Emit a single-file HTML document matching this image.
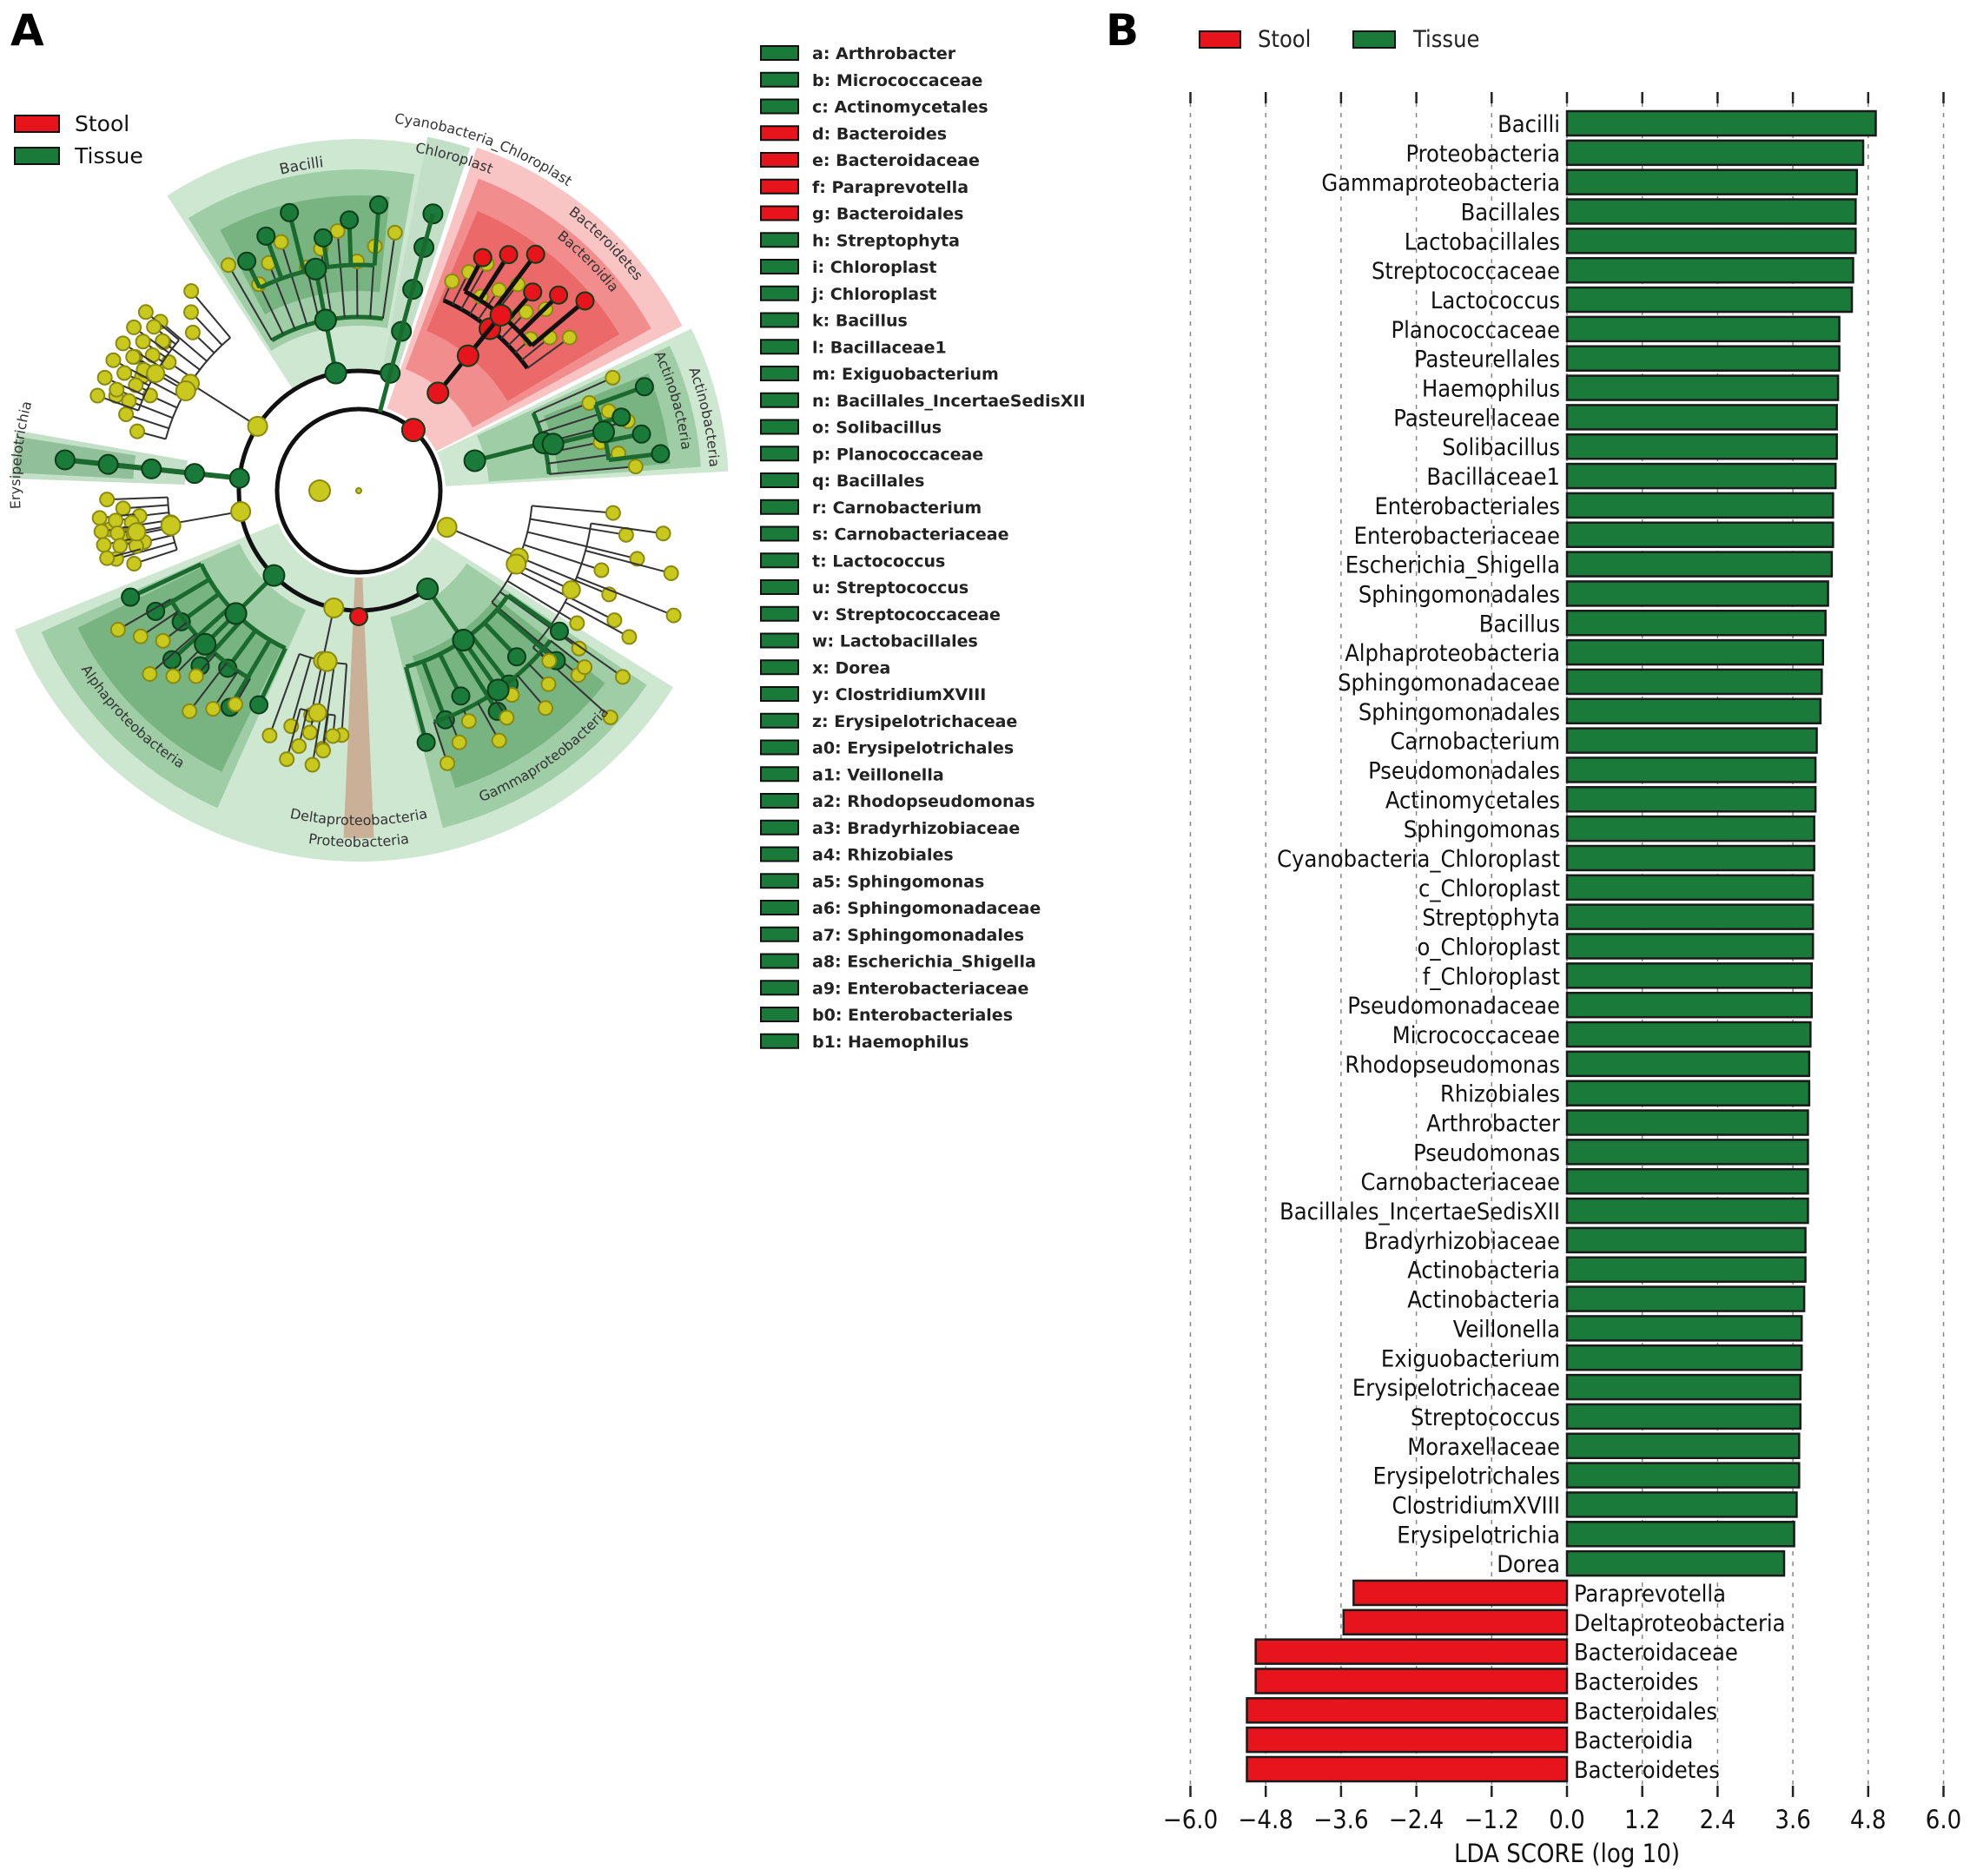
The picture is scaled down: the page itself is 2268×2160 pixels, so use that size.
<!DOCTYPE html>
<html><head><meta charset="utf-8">
<style>
html,body{margin:0;padding:0;background:#fff;}
svg{display:block;}
</style></head>
<body>
<svg id="fig" width="2268" height="2160" viewBox="0 0 2268 2160" xmlns="http://www.w3.org/2000/svg">
  <g id="panelA"></g>
  <g id="legendList"></g>
  <g id="panelB"></g>
  <text x="12" y="52" font-family="DejaVu Sans, sans-serif" font-weight="bold" font-size="50" fill="#000">A</text>
  <text x="1273" y="52" font-family="DejaVu Sans, sans-serif" font-weight="bold" font-size="50" fill="#000">B</text>
  <g>
    <rect x="17" y="133" width="51" height="19" fill="#e8141c" stroke="#111" stroke-width="2"/>
    <text x="86" y="151" font-family="DejaVu Sans, sans-serif" font-size="25" fill="#111">Stool</text>
    <rect x="17" y="170" width="51" height="19" fill="#1a7a3a" stroke="#111" stroke-width="2"/>
    <text x="86" y="188" font-family="DejaVu Sans, sans-serif" font-size="25" fill="#111">Tissue</text>
  </g>
  <g>
    <rect x="1381" y="36" width="47" height="19" fill="#e8141c" stroke="#111" stroke-width="2"/>
    <text x="1448" y="54" font-family="DejaVu Sans Condensed, DejaVu Sans, sans-serif" font-size="27" fill="#222">Stool</text>
    <rect x="1558" y="36" width="48" height="19" fill="#1a7a3a" stroke="#111" stroke-width="2"/>
    <text x="1627" y="54" font-family="DejaVu Sans Condensed, DejaVu Sans, sans-serif" font-size="27" fill="#222">Tissue</text>
  </g>
</svg>
<script>
const NS = "http://www.w3.org/2000/svg";
// ---------- Bar chart data ----------
const categories = ["Bacilli","Proteobacteria","Gammaproteobacteria","Bacillales","Lactobacillales","Streptococcaceae","Lactococcus","Planococcaceae","Pasteurellales","Haemophilus","Pasteurellaceae","Solibacillus","Bacillaceae1","Enterobacteriales","Enterobacteriaceae","Escherichia_Shigella","Sphingomonadales","Bacillus","Alphaproteobacteria","Sphingomonadaceae","Sphingomonadales","Carnobacterium","Pseudomonadales","Actinomycetales","Sphingomonas","Cyanobacteria_Chloroplast","c_Chloroplast","Streptophyta","o_Chloroplast","f_Chloroplast","Pseudomonadaceae","Micrococcaceae","Rhodopseudomonas","Rhizobiales","Arthrobacter","Pseudomonas","Carnobacteriaceae","Bacillales_IncertaeSedisXII","Bradyrhizobiaceae","Actinobacteria","Actinobacteria","Veillonella","Exiguobacterium","Erysipelotrichaceae","Streptococcus","Moraxellaceae","Erysipelotrichales","ClostridiumXVIII","Erysipelotrichia","Dorea","Paraprevotella","Deltaproteobacteria","Bacteroidaceae","Bacteroides","Bacteroidales","Bacteroidia","Bacteroidetes"];
const ldaScores = [4.92,4.72,4.62,4.6,4.6,4.56,4.54,4.34,4.34,4.32,4.3,4.3,4.28,4.24,4.24,4.22,4.16,4.12,4.08,4.06,4.04,3.98,3.96,3.96,3.94,3.94,3.92,3.92,3.92,3.9,3.9,3.88,3.86,3.86,3.84,3.84,3.84,3.84,3.8,3.8,3.78,3.74,3.74,3.72,3.72,3.7,3.7,3.66,3.62,3.46,-3.4,-3.56,-4.96,-4.96,-5.1,-5.1,-5.1];
const tickValues = [-6.0,-4.8,-3.6,-2.4,-1.2,0.0,1.2,2.4,3.6,4.8,6.0];
const tickLabels = ["\u22126.0","\u22124.8","\u22123.6","\u22122.4","\u22121.2","0.0","1.2","2.4","3.6","4.8","6.0"];

function el(tag, attrs, parent){ const e=document.createElementNS(NS,tag); for(const k in attrs) e.setAttribute(k,attrs[k]); if(parent) parent.appendChild(e); return e; }

(function(){
  const g = document.getElementById('panelB');
  const X0 = 1804, UNIT = 72.25, TOP = 106, BOT = 2069, Y0 = 142, STEP = (2037-142)/56, BH = 28;
  const xs = v => X0 + v*UNIT;
  const ys = i => Y0 + i*STEP;
  const font = "DejaVu Sans Condensed, DejaVu Sans, sans-serif";
  tickValues.forEach((t,i)=>{
    const x = xs(t);
    const gl = el('line',{x1:x,x2:x,y1:TOP,y2:BOT,stroke:'#888','stroke-width':1.5,'stroke-dasharray':'5 7'},g);
    
    
    const tt = el('line',{x1:x,x2:x,y1:TOP,y2:TOP+13,stroke:'#222','stroke-width':2.5},g);
    
    
    const tb = el('line',{x1:x,x2:x,y1:BOT-13,y2:BOT,stroke:'#222','stroke-width':2.5},g);
    
    
    const tl = el('text',{x:x,y:2105,'text-anchor':'middle','font-family':font,'font-size':29,fill:'#111'},g);
    tl.textContent = tickLabels[i];
    
    
  });
  categories.forEach((c,i)=>{
    const v = ldaScores[i], y = ys(i);
    const x1 = xs(Math.min(0,v)), x2 = xs(Math.max(0,v));
    const r = el('rect',{x:x1,y:y-BH/2,width:x2-x1,height:BH,fill:v>=0?'#1a7a3a':'#e8141c',stroke:'#1a1a1a','stroke-width':2.5},g);
    
    
    const t = el('text',{x:v>=0?X0-8:X0+8,y:y+10,'text-anchor':v>=0?'end':'start','font-family':font,'font-size':27,fill:'#111'},g);
    t.textContent = c;
    
    
  });
  const at = el('text',{x:X0,y:2144,'text-anchor':'middle','font-family':font,'font-size':29,fill:'#111'},g);
  at.textContent = 'LDA SCORE (log 10)';
  
  
})();

// ---------- Clade key legend ----------
const keyLabels = ["a: Arthrobacter","b: Micrococcaceae","c: Actinomycetales","d: Bacteroides","e: Bacteroidaceae","f: Paraprevotella","g: Bacteroidales","h: Streptophyta","i: Chloroplast","j: Chloroplast","k: Bacillus","l: Bacillaceae1","m: Exiguobacterium","n: Bacillales_IncertaeSedisXII","o: Solibacillus","p: Planococcaceae","q: Bacillales","r: Carnobacterium","s: Carnobacteriaceae","t: Lactococcus","u: Streptococcus","v: Streptococcaceae","w: Lactobacillales","x: Dorea","y: ClostridiumXVIII","z: Erysipelotrichaceae","a0: Erysipelotrichales","a1: Veillonella","a2: Rhodopseudomonas","a3: Bradyrhizobiaceae","a4: Rhizobiales","a5: Sphingomonas","a6: Sphingomonadaceae","a7: Sphingomonadales","a8: Escherichia_Shigella","a9: Enterobacteriaceae","b0: Enterobacteriales","b1: Haemophilus"];
const keyGroups = ["T","T","T","S","S","S","S","T","T","T","T","T","T","T","T","T","T","T","T","T","T","T","T","T","T","T","T","T","T","T","T","T","T","T","T","T","T","T"];
(function(){
  const g = document.getElementById('legendList');
  keyLabels.forEach((k,i)=>{
    const y = 53 + i*30.75;
    const r = el('rect',{x:876,y:y,width:43,height:16,fill:keyGroups[i]==='S'?'#e8141c':'#1a7a3a',stroke:'#111','stroke-width':2},g);
    
    
    const t = el('text',{x:935,y:y+15,'font-family':'DejaVu Sans, sans-serif','font-size':19,'font-weight':'bold',fill:'#222'},g);
    t.textContent = k;
    
    
  });
})();

// ---------- Cladogram ----------
(function(){
  const g = document.getElementById('panelA');
  const CX = 413, CY = 565;
  const P = (a,r)=>[CX + r*Math.cos(a*Math.PI/180), CY - r*Math.sin(a*Math.PI/180)];
  function sector(a0,a1,r0,r1,fill,name){
    const la = (a1-a0)>180?1:0;
    const p1=P(a0,r1),p2=P(a1,r1),p3=P(a1,r0),p4=P(a0,r0);
    const d=`M${p1} A${r1} ${r1} 0 ${la} 0 ${p2} L${p3} A${r0} ${r0} 0 ${la} 1 ${p4} Z`;
    const s=el('path',{d:d,fill:fill},g);
    
    
  }
  const G1='rgba(60,160,70,0.25)', G2='rgba(40,140,55,0.28)', G3='rgba(30,120,45,0.3)';
  const R1='rgba(235,60,60,0.3)', R2='rgba(225,40,40,0.35)';
  sector(202,328,100,427,G1,'proteobacteria-wedge');
  sector(204,246,150,400,G2,'alphaproteobacteria-wedge');
  sector(206,244,200,360,G3,'a4-wedge');
  sector(284,326,150,400,G2,'gammaproteobacteria-wedge');
  sector(288,322,200,360,G3,'gamma-order-wedge');
  sector(267.5,272.5,100,400,'rgba(200,140,110,0.6)','deltaproteobacteria-wedge');
  sector(79,123,140,405,G1,'bacilli-wedge');
  sector(80,122,190,370,G2,'bacilli-order-wedge');
  sector(84,118,230,340,G3,'bacilli-family-wedge');
  sector(72,79,140,415,G2,'chloroplast-wedge');
  sector(27,71,100,418,R1,'bacteroidetes-wedge');
  sector(29,69,150,385,R2,'bacteroidia-wedge');
  sector(31,67,200,350,R2,'bacteroidales-wedge');
  sector(3,26,100,426,G1,'actinobacteria-phylum-wedge');
  sector(4,25,150,395,G2,'actinobacteria-class-wedge');
  sector(5,22,230,360,G3,'actinomycetales-wedge');
  sector(170,178,200,400,G2,'erysipelotrichia-wedge');
  sector(171,177,260,395,G3,'erysipelotrichales-wedge');
  const c0=el('circle',{cx:CX,cy:CY,r:94,fill:'none',stroke:'#111','stroke-width':5},g);
  
  
  const a0=P(78,138), a1=P(300,138);
  const arc=el('path',{d:`M${a0} A138 138 0 1 0 ${a1}`,fill:'none',stroke:'#111','stroke-width':5},g);
  
  
  const YL='#c8c81e', GR='#1a7a3a', RD='#e8141c';
  function node(a,r,c,s){
    const p=P(a,r);
    const n=el('circle',{cx:p[0],cy:p[1],r:s,fill:c,stroke:c===YL?'#8a8a10':'#0c3c18','stroke-width':2},g);
    
    
  }
  function branch(a,r0,r1,c,w){
    const p=P(a,r0),q=P(a,r1);
    const l=el('line',{x1:p[0],y1:p[1],x2:q[0],y2:q[1],stroke:c,'stroke-width':w},g);
    
    
  }
  function subarc(aa,ab,r,c,w){
    const p=P(aa,r),q=P(ab,r);
    const l=el('path',{d:`M${p} A${r} ${r} 0 0 0 ${q}`,fill:'none',stroke:c,'stroke-width':w},g);
    
    
  }
  const clusters=[
    [82,120,10,138,200,300,GR,YL],[86,116,6,200,260,330,GR,GR],
    [36,66,12,145,240,300,RD,YL],[40,62,6,200,260,340,RD,RD],
    [5,24,7,138,220,320,GR,YL],[7,20,4,230,290,350,GR,GR],
    [-40,-5,9,110,200,330,YL,YL],[-42,-8,6,200,270,390,YL,YL],
    [285,325,8,138,210,300,GR,GR],[288,322,10,210,280,330,GR,YL],
    [250,266,5,138,200,300,YL,YL],[255,264,6,200,260,320,YL,YL],
    [205,245,8,138,200,290,GR,GR],[210,240,9,200,250,320,GR,YL],
    [130,165,12,138,230,300,YL,YL],[140,160,16,230,270,320,YL,YL],
    [182,198,8,138,220,290,YL,YL],[186,195,10,220,260,300,YL,YL]
  ];
  clusters.forEach(cl=>{
    const [aa,ab,n,rp,rc,rl,pc,lc]=cl;
    const am=(aa+ab)/2;
    const w = pc===YL?2:5, col = pc===YL?'#333':(pc===RD?'#111':'#1a6a30');
    branch(am,rp,rc,col,w);
    subarc(aa,ab,rc,col,w);
    for(let i=0;i<n;i++){
      const a=aa+(ab-aa)*(n===1?0.5:i/(n-1));
      const rr = rl - (i%3)*18;
      branch(a,rc,rr,lc===YL?'#333':col,lc===YL?2:w);
      node(a,rr,lc,lc===YL?8:10);
    }
    node(am,rc,pc,pc===YL?10:12);
    node(am,rp,pc,pc===YL?11:12);
  });
  [140,190,240,290,330].forEach(r=>node(75,r,GR,11));
  branch(75,94,330,'#1a6a30',5);
  branch(174,138,340,'#1a6a30',6);
  [138,190,240,290,340].forEach(r=>node(174,r,GR,11));
  node(270,145,RD,10);
  node(48,94,RD,13);
  node(180,45,YL,12);
  node(0,0,YL,3);
  const labs=[["Bacilli",100,375,17],["Cyanobacteria_Chloroplast",70,425,16],["Chloroplast",74,395,16],["Bacteroidetes",45,400,16],["Bacteroidia",45,370,16],["Actinobacteria",12,405,16],["Actinobacteria",16,375,16],["Proteobacteria",270,410,16],["Deltaproteobacteria",270,385,16],["Alphaproteobacteria",225,380,16],["Gammaproteobacteria",305,385,16],["Erysipelotrichia",174,390,16]];
  labs.forEach((L,i)=>{
    const [txt,a,r,fs]=L;
    const bottom = a>180 && a<360;
    const id='lp'+i;
    const span=40;
    const p1=P(a+(bottom?-span:span),r), p2=P(a+(bottom?span:-span),r);
    const d = bottom ? `M${p1} A${r} ${r} 0 0 0 ${p2}` : `M${p1} A${r} ${r} 0 0 1 ${p2}`;
    el('path',{id:id,d:d,fill:'none',stroke:'none'},g);
    const t=el('text',{'font-family':'DejaVu Sans, sans-serif','font-size':fs,fill:'#333'},g);
    
    
    const tp=el('textPath',{href:'#'+id,startOffset:'50%','text-anchor':'middle'},t);
    tp.textContent=txt;
  });
})();
</script>
</body></html>
